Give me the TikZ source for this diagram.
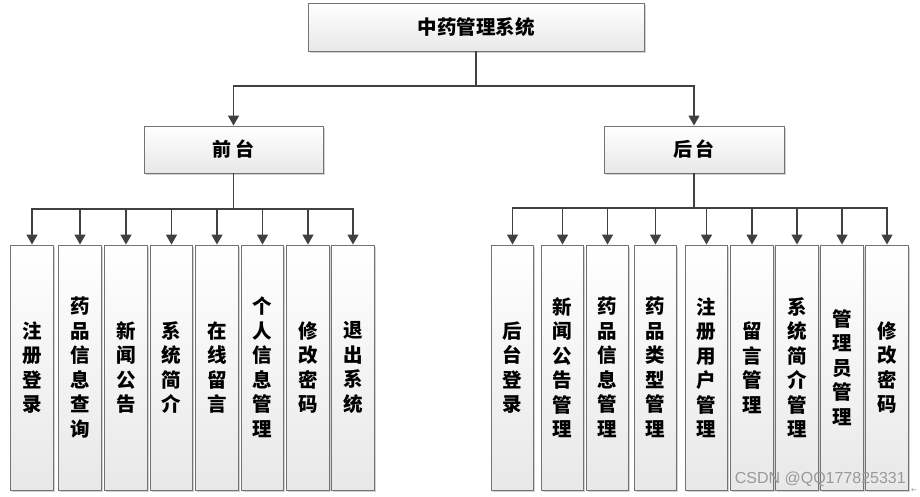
\documentclass[tikz,border=0pt]{standalone}
\usepackage{fontspec}
\setmainfont{Noto Sans CJK SC}
\newfontfamily\wmfont{Liberation Sans}
\newfontfamily\djvfont{DejaVu Sans}
\usetikzlibrary{arrows.meta,shadows}
\begin{document}
\begin{tikzpicture}[x=1pt,y=-1pt,
  box/.style={draw=black!55, line width=0.9pt, top color=white, bottom color=black!9, inner sep=0pt,
    drop shadow={shadow xshift=1.6pt, shadow yshift=-1.6pt, fill=black!35, opacity=0.5}},
  leaf/.style={box, minimum width=42.5pt, minimum height=245pt, text width=30pt,
    font=\bfseries\fontsize{19.5}{24.5}\selectfont, align=center},
  link/.style={draw=black!75, line width=1.4pt},
  arr/.style={link, -{Triangle[width=11pt,length=10pt]}}]
\useasboundingbox (0,0) rectangle (920,497);
% top levels
\node[box, minimum width=336pt, minimum height=48pt, font=\bfseries\fontsize{19.5}{22}\selectfont] (sys) at (476,27) {中药管理系统};
\node[box, minimum width=179pt, minimum height=47pt, font=\bfseries\fontsize{19}{22}\selectfont] (qt) at (233.5,149.5) {前\,台};
\node[box, minimum width=180pt, minimum height=47pt, font=\bfseries\fontsize{19}{22}\selectfont] (ht) at (694,149.5) {后\,台};
% left leaves
\foreach \x/\t [count=\i] in {32/{注\\册\\登\\录}, 80/{药\\品\\信\\息\\查\\询}, 126/{新\\闻\\公\\告}, 171.5/{系\\统\\简\\介}, 217/{在\\线\\留\\言}, 262.5/{个\\人\\信\\息\\管\\理}, 308/{修\\改\\密\\码}, 353/{退\\出\\系\\统}}
  \node[leaf] (l\i) at (\x,367.5) {\t};
% right leaves
\foreach \x/\t [count=\i] in {512.5/{后\\台\\登\\录}, 562.5/{新\\闻\\公\\告\\管\\理}, 607.5/{药\\品\\信\\息\\管\\理}, 655.5/{药\\品\\类\\型\\管\\理}, 706.5/{注\\册\\用\\户\\管\\理}, 752/{留\\言\\管\\理}, 797/{系\\统\\简\\介\\管\\理}, 842/{管\\理\\员\\管\\理}, 887/{修\\改\\密\\码}}
  \node[leaf] (r\i) at (\x,367.5) {\t};
% connectors
\coordinate (j0) at (476,86);
\draw[link] (sys.south) -- (j0);
\draw[arr] (j0) -| (qt.north);
\draw[arr] (j0) -| (ht.north);
\coordinate (jl) at (233.5,209);
\draw[link] (qt.south) -- (jl);
\foreach \i in {1,...,8} \draw[arr] (jl) -| (l\i.north);
\coordinate (jr) at (694,208);
\draw[link] (ht.south) -- (jr);
\foreach \i in {1,...,9} \draw[arr] (jr) -| (r\i.north);
% watermark
\node[font=\wmfont\fontsize{16}{16}\selectfont, text=black!40, anchor=east, inner sep=0pt] (wm) at (906,479) {CSDN @QQ177825331};
\node[font=\djvfont\fontsize{7}{7}\selectfont, text=black!45, inner sep=0pt] (pm) at (914,491) {←};
\end{tikzpicture}
\end{document}
